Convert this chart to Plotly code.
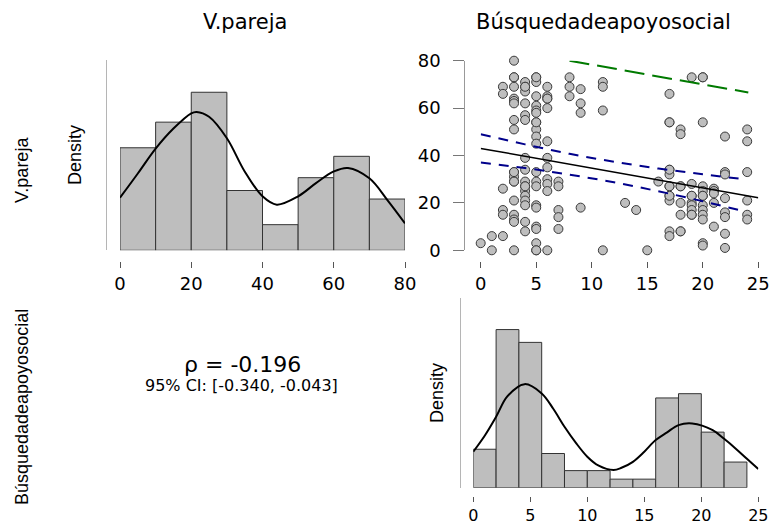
import numpy as np
import plotly.graph_objects as go

W, H = 774, 526

# ---------------- data ----------------
# Búsqueda de apoyo social (x) and V.pareja (y), grouped by Búsqueda value
busqueda = (
    [0] * 1 + [1] * 2 + [2] * 6 + [3] * 19 + [4] * 18 + [5] * 22 + [6] * 12 +
    [7] * 5 + [8] * 3 + [9] * 4 + [11] * 4 + [13] * 1 + [14] * 1 + [15] * 1 +
    [16] * 1 + [17] * 13 + [18] * 8 + [19] * 9 + [20] * 13 + [21] * 5 +
    [22] * 8 + [24] * 6
)
pareja = (
    [3] +
    [6, 0] +
    [6, 69, 66, 26, 17, 15] +
    [80, 73, 69, 64, 63, 62, 55, 51, 33, 31, 29, 21, 15, 13, 12, 0, 29, 73, 33] +
    [71, 69, 67, 62, 57, 55, 39, 34, 29, 27, 25, 23, 21, 19, 12, 8, 27, 69] +
    [73, 71, 65, 61, 59, 58, 54, 51, 48, 45, 33, 29, 27, 19, 18, 10, 9, 3, 0, 73, 54, 0] +
    [69, 65, 64, 60, 46, 39, 35, 30, 28, 25, 0, 64] +
    [29, 27, 17, 14, 9] +
    [73, 69, 65] +
    [68, 62, 58, 18] +
    [71, 69, 59, 0] +
    [20] +
    [17] +
    [0] +
    [29] +
    [66, 54, 34, 32, 27, 23, 21, 8, 6, 27, 23, 54, 34] +
    [51, 49, 27, 20, 15, 8, 27, 8] +
    [73, 28, 23, 20, 19, 17, 15, 23, 15] +
    [73, 54, 27, 25, 23, 19, 17, 15, 13, 3, 2, 23, 73] +
    [26, 25, 24, 20, 10] +
    [48, 33, 32, 22, 16, 14, 7, 1] +
    [51, 46, 33, 21, 15, 13]
)

# histogram bin edges
edges_pareja = [0, 10, 20, 30, 40, 50, 60, 70, 80]
edges_busq = [0, 2, 4, 6, 8, 10, 12, 14, 16, 18, 20, 22, 24]

# density curves (density units)
kde_pareja_x = [0, 5, 10, 15, 20, 21.5, 25, 30, 35, 40, 44, 50, 55, 60, 64, 70, 75, 80]
kde_pareja_y = [0.0076, 0.0111, 0.0147, 0.0176, 0.0198, 0.0200, 0.0193, 0.0162, 0.0114,
                0.0078, 0.0066, 0.0078, 0.0097, 0.0114, 0.0119, 0.0104, 0.0073, 0.0039]
kde_busq_x = [0, 1, 2, 3, 4.5, 6, 7, 8, 9, 10, 11, 12.3, 13, 14, 15, 16, 17, 18, 19.2,
              21, 22, 23, 24, 25]
kde_busq_y = [0.0260, 0.0375, 0.0512, 0.0661, 0.0748, 0.0681, 0.0572, 0.0440, 0.0324,
              0.0224, 0.0159, 0.0128, 0.0144, 0.0187, 0.0260, 0.0344, 0.0400, 0.0452,
              0.0464, 0.0416, 0.0353, 0.0284, 0.0209, 0.0135]

# regression line, confidence band and prediction band
fit_x = [0, 25]
fit_y = [43.0, 22.2]
ci_x = [0, 4, 8, 12, 16, 20, 23.5]
ci_upper = [49.0, 44.7, 40.7, 37.4, 34.5, 32.1, 30.1]
ci_lower = [37.0, 34.7, 31.9, 28.7, 24.9, 20.7, 16.7]
pi_x = [8, 16, 24.1]
pi_upper = [80.0, 73.3, 66.6]

ticks_pareja = [0, 20, 40, 60, 80]
ticks_busq = [0, 5, 10, 15, 20, 25]

col_titles = ["V.pareja", "Búsquedadeapoyosocial"]
rho_text = "ρ = -0.196"
ci_text = "95% CI: [-0.340, -0.043]"

# ---------------- helpers ----------------
def right_closed_hist(values, edges):
    v = np.asarray(values, dtype=float)
    e = np.asarray(edges, dtype=float)
    idx = np.clip(np.searchsorted(e, v, side="left") - 1, 0, len(e) - 2)
    counts = np.bincount(idx, minlength=len(e) - 1)
    widths = np.diff(e)
    dens = counts / (len(v) * widths)
    centers = (e[:-1] + e[1:]) / 2
    return centers, dens, widths

def px(xp):
    return xp / W

def py(yp):
    return 1 - yp / H

FH = "DejaVu Sans, Verdana, sans-serif"
FV = "Liberation Sans, Arial, sans-serif"
BAR_FILL = "#bebebe"
EDGE = "#333333"

fig = go.Figure()

# top-left histogram
c1, d1, w1 = right_closed_hist(pareja, edges_pareja)
fig.add_trace(go.Bar(x=c1, y=d1, width=w1, marker=dict(color=BAR_FILL, line=dict(color=EDGE, width=1)),
                     xaxis="x", yaxis="y", cliponaxis=False, hoverinfo="skip"))
fig.add_trace(go.Scatter(x=kde_pareja_x, y=kde_pareja_y, mode="lines",
                         line=dict(color="black", width=2, shape="spline", smoothing=1.0),
                         xaxis="x", yaxis="y", hoverinfo="skip"))

# scatter
fig.add_trace(go.Scatter(x=busqueda, y=pareja, mode="markers",
                         marker=dict(size=9, color=BAR_FILL, line=dict(color="#3a3a3a", width=1)),
                         xaxis="x2", yaxis="y2", cliponaxis=False, hoverinfo="skip"))
fig.add_trace(go.Scatter(x=pi_x, y=pi_upper, mode="lines",
                         line=dict(color="#007a00", width=2, dash="20px,8px"),
                         xaxis="x2", yaxis="y2", hoverinfo="skip"))
fig.add_trace(go.Scatter(x=ci_x, y=ci_upper, mode="lines",
                         line=dict(color="#00008b", width=2, dash="10px,8px", shape="spline"),
                         xaxis="x2", yaxis="y2", hoverinfo="skip"))
fig.add_trace(go.Scatter(x=ci_x, y=ci_lower, mode="lines",
                         line=dict(color="#00008b", width=2, dash="10px,8px", shape="spline"),
                         xaxis="x2", yaxis="y2", hoverinfo="skip"))
fig.add_trace(go.Scatter(x=fit_x, y=fit_y, mode="lines",
                         line=dict(color="black", width=1.5),
                         xaxis="x2", yaxis="y2", hoverinfo="skip"))

# bottom-right histogram
c3, d3, w3 = right_closed_hist(busqueda, edges_busq)
fig.add_trace(go.Bar(x=c3, y=d3, width=w3, marker=dict(color=BAR_FILL, line=dict(color=EDGE, width=1)),
                     xaxis="x3", yaxis="y3", cliponaxis=False, hoverinfo="skip"))
fig.add_trace(go.Scatter(x=kde_busq_x, y=kde_busq_y, mode="lines",
                         line=dict(color="black", width=2, shape="spline", smoothing=1.0),
                         xaxis="x3", yaxis="y3", hoverinfo="skip"))

tickfont = dict(family=FH, size=18, color="black")
common_x = dict(anchor="free", ticks="outside", ticklen=6, tickwidth=1, tickcolor="#555",
                showgrid=False, zeroline=False, showline=False, tickfont=tickfont, fixedrange=True,
                ticklabelstandoff=0)
hist_y = dict(anchor="free", showline=True, linecolor="#b5b5b5", linewidth=1, ticks="",
              showticklabels=False, showgrid=False, zeroline=False, fixedrange=True)

bottom_x = dict(common_x)
bottom_x.update(ticklen=5, tickfont=dict(family=FH, size=16, color="black"))

fig.update_layout(
    width=W, height=H, margin=dict(l=0, r=0, t=0, b=0, autoexpand=False),
    paper_bgcolor="white", plot_bgcolor="white", showlegend=False, bargap=0,
    xaxis=dict(domain=[px(120), px(405)], range=[0, 80], position=py(261),
               tickvals=ticks_pareja, **common_x),
    yaxis=dict(domain=[py(250.3), py(60)], range=[0, 0.0275], position=px(106), **hist_y),
    xaxis2=dict(domain=[px(480.7), px(758.3)], range=[0, 25], position=py(261),
                tickvals=ticks_busq, **common_x),
    yaxis2=dict(domain=[py(250.3), py(60.7)], range=[0, 80], anchor="free", position=px(464.3),
                showline=True, linecolor="#999", linewidth=1, ticks="outside", ticklen=11,
                tickcolor="#777", tickvals=ticks_pareja, tickfont=tickfont, ticklabelstandoff=9,
                showgrid=False, zeroline=False, fixedrange=True),
    xaxis3=dict(domain=[px(473.3), px(758.3)], range=[0, 25], position=py(496),
                tickvals=ticks_busq, **bottom_x),
    yaxis3=dict(domain=[py(487.7), py(298)], range=[0, 0.137], position=px(460), **hist_y),
)

ann = [
    dict(text=col_titles[0], x=px(244.5), y=py(22), font=dict(family=FH, size=21, color="black")),
    dict(text=col_titles[1], x=px(603.5), y=py(22), font=dict(family=FH, size=21, color="black")),
    dict(text=col_titles[0], x=px(22), y=py(170), textangle=-90, font=dict(family=FV, size=18, color="black")),
    dict(text=col_titles[1], x=px(22), y=py(407), textangle=-90, font=dict(family=FV, size=18, color="black")),
    dict(text="Density", x=px(75), y=py(155), textangle=-90, font=dict(family=FV, size=18, color="black")),
    dict(text="Density", x=px(437), y=py(393), textangle=-90, font=dict(family=FV, size=18, color="black")),
    dict(text=rho_text, x=px(242), y=py(364), font=dict(family=FH, size=22, color="black")),
    dict(text=ci_text, x=px(241.5), y=py(386), font=dict(family=FH, size=16, color="black")),
]
for a in ann:
    a.update(xref="paper", yref="paper", showarrow=False, xanchor="center", yanchor="middle")
fig.update_layout(annotations=ann)

fig.write_html(
    "out.html",
    config={"displayModeBar": False, "staticPlot": True},
    post_script="document.body.style.margin='0';document.body.style.overflow='hidden';",
)
